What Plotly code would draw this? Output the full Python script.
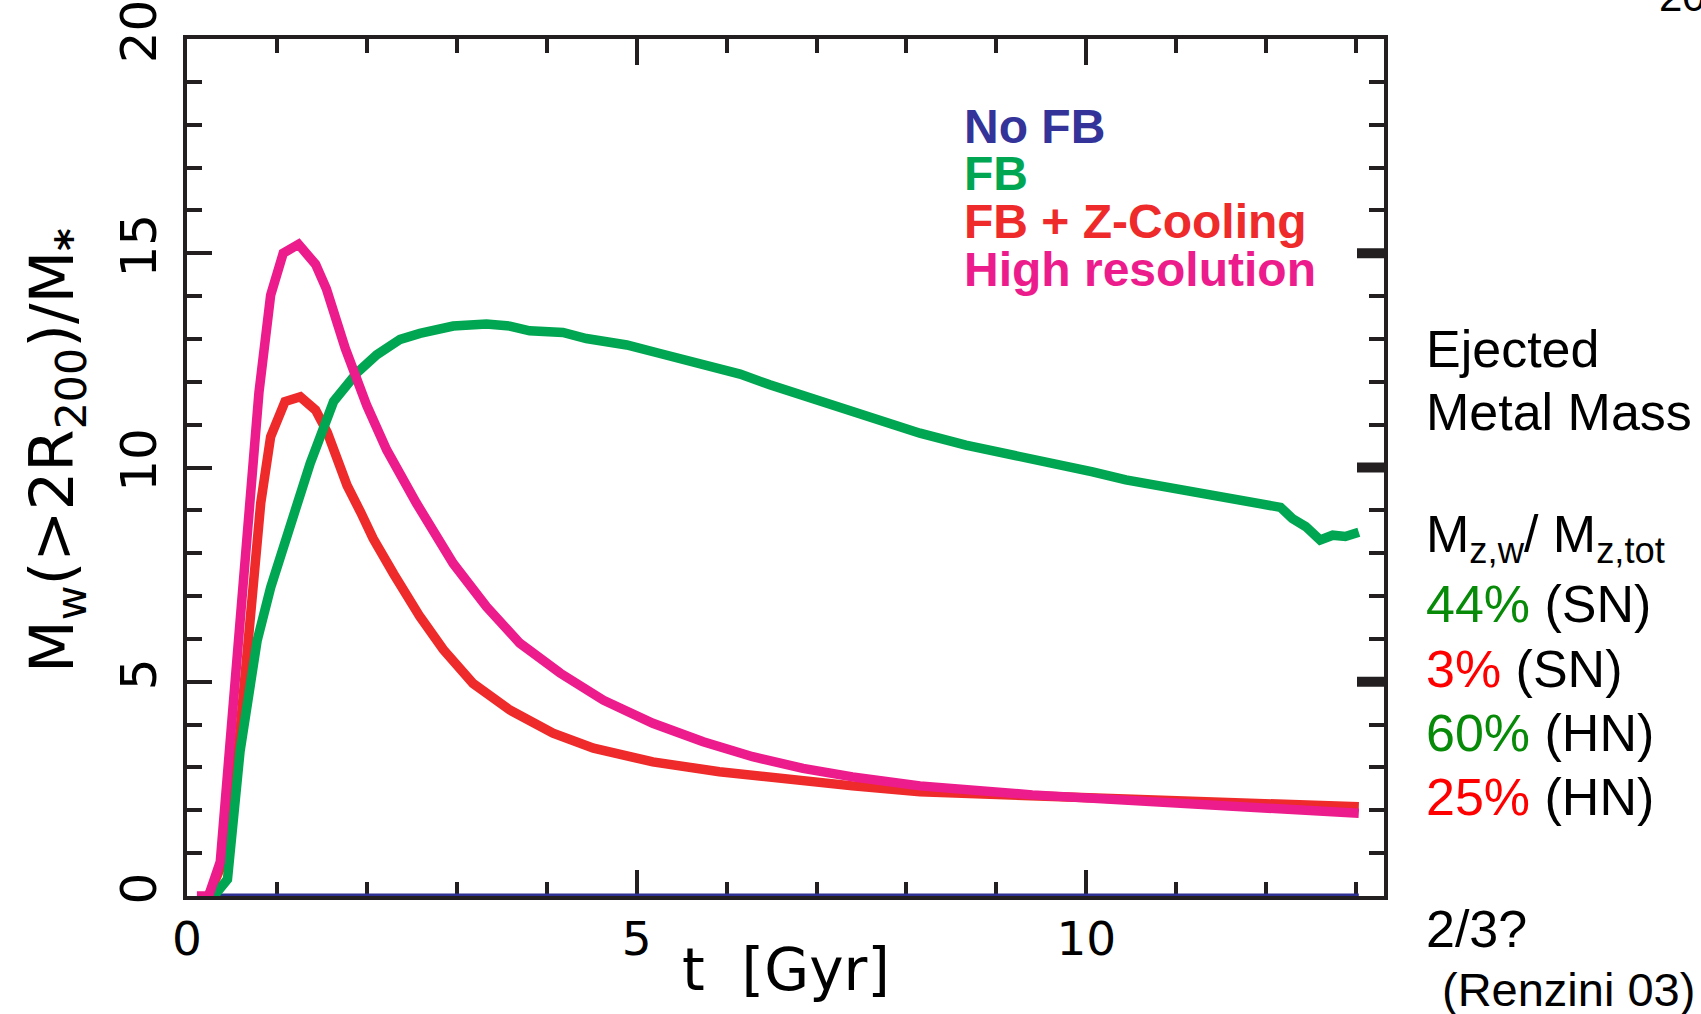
import plotly.graph_objects as go

# ---------------- data ----------------
t_nofb = [0.27, 13.03]
y_nofb = [0.0, 0.0]

t_fb = [0.30, 0.45, 0.59, 0.78, 0.93, 1.15, 1.37, 1.63, 1.89, 2.11, 2.37, 2.59,
        2.96, 3.33, 3.59, 3.81, 4.18, 4.44, 4.89, 5.26, 5.74, 6.15, 6.48, 6.96,
        7.40, 7.70, 8.15, 8.66, 9.11, 9.77, 10.07, 10.44, 10.96, 11.33, 11.81,
        12.16, 12.29, 12.44, 12.60, 12.74, 12.88, 13.03]
y_fb = [0.0, 0.39, 3.38, 5.96, 7.20, 8.65, 10.10, 11.54, 12.21, 12.63, 12.99, 13.13,
        13.30, 13.35, 13.30, 13.19, 13.15, 13.01, 12.86, 12.66, 12.43, 12.18, 11.93, 11.61,
        11.30, 11.09, 10.80, 10.52, 10.33, 10.04, 9.90, 9.71, 9.51, 9.40, 9.23,
        9.07, 8.81, 8.62, 8.31, 8.42, 8.39, 8.49]

t_zcool = [0.24, 0.40, 0.57, 0.82, 0.93, 1.09, 1.26, 1.43, 1.56, 1.78, 1.93, 2.07,
           2.30, 2.59, 2.85, 3.18, 3.59, 4.07, 4.52, 5.18, 5.92, 6.66, 7.40, 8.15,
           9.40, 10.80, 13.03]
y_zcool = [0.0, 0.80, 3.40, 9.17, 10.72, 11.54, 11.65, 11.34, 10.82, 9.58, 8.96, 8.34,
           7.51, 6.52, 5.75, 4.96, 4.34, 3.80, 3.45, 3.13, 2.90, 2.71, 2.57, 2.43,
           2.34, 2.22, 2.08]

t_hires = [0.11, 0.24, 0.37, 0.80, 0.93, 1.07, 1.24, 1.43, 1.55, 1.76, 2.00, 2.22,
           2.55, 2.80, 2.96, 3.33, 3.70, 4.15, 4.63, 5.18, 5.74, 6.29, 6.85, 7.40,
           8.15, 9.40, 10.80, 13.03]
y_hires = [0.0, 0.0, 0.80, 11.75, 14.02, 15.00, 15.21, 14.74, 14.17, 12.78, 11.44, 10.41,
           9.17, 8.25, 7.76, 6.75, 5.90, 5.20, 4.57, 4.03, 3.60, 3.25, 2.98, 2.78,
           2.57, 2.36, 2.18, 1.93]

legend_labels = ["No FB", "FB", "FB + Z-Cooling", "High resolution"]
right_thick_ticks = [5, 10, 15]
x_tick_vals = [0, 5, 10]
y_tick_vals = [0, 5, 10, 15, 20]

# ---------------- styling ----------------
W, H = 1701, 1014
L, R, T, B = 187, 1384, 39, 896
AX = "#231F20"
C_NAVY = "#2E3192"
C_GREEN = "#00A651"
C_RED = "#EE2A2A"
C_PINK = "#EC1C8C"
SANS = "Liberation Sans, Arial, Helvetica, sans-serif"
WIDE = "DejaVu Sans, Liberation Sans, sans-serif"


def px(xp):
    return (xp - L) / (R - L)


def py(yp):
    return (B - yp) / (B - T)


fig = go.Figure()
fig.add_trace(go.Scatter(x=t_nofb, y=y_nofb, mode="lines", cliponaxis=False,
                         line=dict(color=C_NAVY, width=5), name=legend_labels[0]))
fig.add_trace(go.Scatter(x=t_zcool, y=y_zcool, mode="lines", cliponaxis=False,
                         line=dict(color=C_RED, width=9.5), name=legend_labels[2]))
fig.add_trace(go.Scatter(x=t_fb, y=y_fb, mode="lines", cliponaxis=False,
                         line=dict(color=C_GREEN, width=9.5), name=legend_labels[1]))
fig.add_trace(go.Scatter(x=t_hires, y=y_hires, mode="lines", cliponaxis=False,
                         line=dict(color=C_PINK, width=9.5), name=legend_labels[3]))

xr = [0, (R - L) / ((1001 - 172) * (W / 1568) / 10)]

fig.update_layout(
    width=W, height=H,
    margin=dict(l=L, r=W - R, t=T, b=H - B, pad=0),
    paper_bgcolor="white", plot_bgcolor="white",
    showlegend=False,
    font=dict(family=SANS, color="black"),
)
fig.update_xaxes(
    range=xr, showgrid=False, zeroline=False, automargin=False,
    showline=True, linewidth=4, linecolor=AX, mirror="allticks",
    ticks="inside", tickvals=x_tick_vals, ticklen=26, tickwidth=4, tickcolor=AX,
    minor=dict(dtick=1, tick0=0, ticks="inside", ticklen=14, tickwidth=4, tickcolor=AX),
    tickfont=dict(size=47, family=WIDE, color="black"),
    ticklabelstandoff=-1, ticklabeloverflow="allow", layer="below traces",
)
fig.update_yaxes(
    range=[0, 20], showgrid=False, zeroline=False, automargin=False,
    showline=True, linewidth=4, linecolor=AX, mirror="allticks",
    ticks="inside", tickvals=y_tick_vals, ticklen=25, tickwidth=4, tickcolor=AX,
    minor=dict(dtick=1, tick0=0, ticks="inside", ticklen=15, tickwidth=4, tickcolor=AX),
    tickfont=dict(size=50, family=WIDE, color="black"),
    tickangle=-90, ticklabelstandoff=7, ticklabeloverflow="allow", layer="below traces",
)

# thick ticks on the right axis
for v in right_thick_ticks:
    fig.add_shape(type="line", xref="x", yref="y", xsizemode="pixel", xanchor=xr[1],
                  x0=-27, x1=4, y0=v, y1=v, line=dict(color=AX, width=10), layer="above")

ann = []
# axis titles
ann.append(dict(text="t\u00a0\u00a0[Gyr]", xref="paper", yref="paper", x=px(786), y=py(970),
                xanchor="center", yanchor="middle", showarrow=False,
                font=dict(size=58, family=WIDE, color="black")))
ann.append(dict(text="M<sub>w</sub>(&gt;2R<sub>200</sub>)/M<sub><b>*</b></sub>",
                xref="paper", yref="paper", x=px(56), y=py(451),
                xanchor="center", yanchor="middle", textangle=-90, showarrow=False,
                font=dict(size=61, family=WIDE, color="black")))

# legend-like coloured labels
leg_colors = ["#333399", C_GREEN, C_RED, C_PINK]
leg_y = [126.5, 173, 221.5, 269.5]
for lab, col, yy in zip(legend_labels, leg_colors, leg_y):
    ann.append(dict(text="<b>%s</b>" % lab, xref="paper", yref="paper", x=px(962), y=py(yy),
                    xanchor="left", yanchor="middle", showarrow=False,
                    font=dict(size=48, family=SANS, color=col)))

# right-hand text block
G2 = "#078A07"
R2 = "#FF0000"
right_lines = [
    ("Ejected", 349, 1424),
    ("Metal Mass", 412, 1424),
    ("M<sub>z,w</sub>/ M<sub>z,tot</sub>", 538, 1424),
    ("<span style='color:%s'>44%%</span> (SN)" % G2, 604, 1424),
    ("<span style='color:%s'>3%%</span> (SN)" % R2, 669, 1424),
    ("<span style='color:%s'>60%%</span> (HN)" % G2, 733, 1424),
    ("<span style='color:%s'>25%%</span> (HN)" % R2, 797, 1424),
    ("2/3?", 929, 1424),
    ("(Renzini 03)", 990, 1440),
]
for txt, yy, xx in right_lines:
    ann.append(dict(text=txt, xref="paper", yref="paper", x=px(xx), y=py(yy),
                    xanchor="left", yanchor="middle", showarrow=False,
                    font=dict(size=52 if "Renzini" not in txt else 47, family=SANS, color="black")))

# clipped text at the very top right
ann.append(dict(text="200", xref="paper", yref="paper", x=px(1657), y=py(22),
                xanchor="left", yanchor="bottom", showarrow=False,
                font=dict(size=42, family=SANS, color="black")))

fig.update_layout(annotations=ann)

fig.write_html("out.html", config={"displayModeBar": False},
               post_script="document.body.style.margin='0';document.body.style.overflow='hidden';")
